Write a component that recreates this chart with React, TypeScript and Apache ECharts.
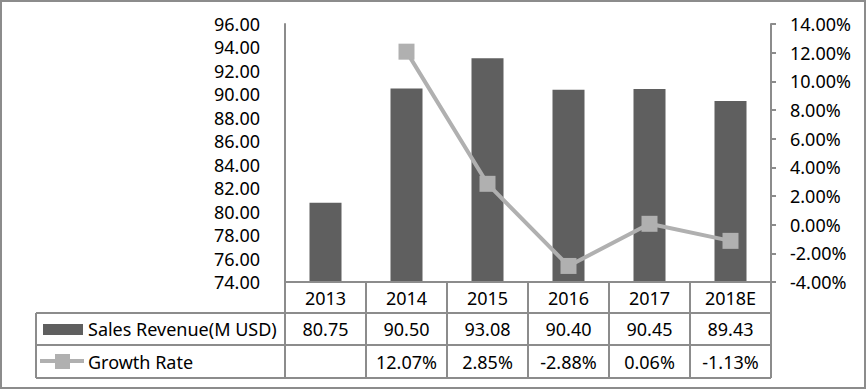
import React, { useEffect, useRef } from "react";
import * as echarts from "echarts";

const years = ["2013", "2014", "2015", "2016", "2017", "2018E"];
const revenue = [80.75, 90.5, 93.08, 90.4, 90.45, 89.43];
const growth: (number | null)[] = [null, 12.07, 2.85, -2.88, 0.06, -1.13];
const revenueName = "Sales Revenue(M USD)";
const growthName = "Growth Rate";

const FONT = "Noto Sans";
const FS = 18;
const GRID_L = 285;
const GRID_R = 771;
const GRID_T = 24;
const GRID_B = 282;
const ROW1 = 313;
const ROW2 = 345;
const ROW3 = 378;
const TABLE_L = 36;
const LINE_C = "#8c8c8c";
const BAR_C = "#5f5f5f";
const GROWTH_C = "#b0b0b0";

export default function App() {
  const ref = useRef<HTMLDivElement>(null);
  useEffect(() => {
    if (!ref.current) return;
    const chart = echarts.init(ref.current, null, { renderer: "svg" });
    const txt = { fontFamily: FONT, fontSize: FS, color: "#000" };
    const tableAxis = (data: string[], offset: number, len: number, idx: number) => ({
      type: "category",
      data,
      position: "bottom",
      offset,
      gridIndex: 0,
      boundaryGap: true,
      axisLine: { show: true, onZero: false, lineStyle: { color: LINE_C, width: 2 } },
      axisTick: { show: true, interval: 0, length: len, lineStyle: { color: LINE_C, width: 2 } },
      axisLabel: { show: true, interval: 0, margin: Math.round(len / 2), verticalAlign: "middle", ...txt },
      splitLine: { show: false },
      z: 5 + idx,
    });
    chart.setOption({
      animation: false,
      grid: { left: GRID_L, right: 867 - GRID_R, top: GRID_T, bottom: 390 - GRID_B },
      xAxis: [
        tableAxis(years, 0, ROW1 - GRID_B, 0),
        tableAxis(revenue.map((v) => v.toFixed(2)), ROW1 - GRID_B, ROW2 - ROW1, 1),
        tableAxis(growth.map((v) => (v == null ? "" : v.toFixed(2) + "%")), ROW2 - GRID_B, ROW3 - ROW2, 2),
      ],
      yAxis: [
        {
          type: "value",
          min: 74,
          max: 96,
          interval: 2,
          position: "left",
          axisLine: { show: true, onZero: false, lineStyle: { color: LINE_C, width: 2 } },
          axisTick: { show: false },
          splitLine: { show: false },
          axisLabel: { margin: 25, formatter: (v: number) => v.toFixed(2), ...txt },
        },
        {
          type: "value",
          min: -4,
          max: 14,
          interval: 2,
          position: "right",
          axisLine: { show: true, onZero: false, lineStyle: { color: LINE_C, width: 2 } },
          axisTick: { show: true, length: 5, lineStyle: { color: LINE_C, width: 2 } },
          splitLine: { show: false },
          axisLabel: { margin: 19, formatter: (v: number) => v.toFixed(2) + "%", ...txt },
        },
      ],
      series: [
        {
          name: revenueName,
          type: "bar",
          data: revenue,
          xAxisIndex: 0,
          yAxisIndex: 0,
          barWidth: 32,
          itemStyle: { color: BAR_C },
        },
        {
          name: growthName,
          type: "line",
          data: growth,
          xAxisIndex: 0,
          yAxisIndex: 1,
          symbol: "rect",
          symbolSize: 16,
          lineStyle: { color: GROWTH_C, width: 4 },
          itemStyle: { color: GROWTH_C },
          z: 10,
        },
      ],
      graphic: [
        { type: "rect", shape: { x: 1, y: 1, width: 864, height: 387 }, style: { fill: "none", stroke: LINE_C, lineWidth: 2 }, z: 0 },
        { type: "line", shape: { x1: TABLE_L, y1: ROW1, x2: GRID_L, y2: ROW1 }, style: { stroke: LINE_C, lineWidth: 2 } },
        { type: "line", shape: { x1: TABLE_L, y1: ROW2, x2: GRID_L, y2: ROW2 }, style: { stroke: LINE_C, lineWidth: 2 } },
        { type: "line", shape: { x1: TABLE_L, y1: ROW3, x2: GRID_R, y2: ROW3 }, style: { stroke: LINE_C, lineWidth: 2 } },
        { type: "line", shape: { x1: TABLE_L, y1: ROW1, x2: TABLE_L, y2: ROW3 }, style: { stroke: LINE_C, lineWidth: 2 } },
        { type: "rect", shape: { x: 43, y: 324, width: 40, height: 11 }, style: { fill: BAR_C } },
        { type: "line", shape: { x1: 40, y1: 361, x2: 84, y2: 361 }, style: { stroke: GROWTH_C, lineWidth: 4 } },
        { type: "rect", shape: { x: 55, y: 354, width: 15, height: 15 }, style: { fill: GROWTH_C } },
        { type: "text", x: 88, y: (ROW1 + ROW2) / 2, style: { text: revenueName, font: `${FS}px "${FONT}"`, fill: "#000", verticalAlign: "middle" } },
        { type: "text", x: 88, y: (ROW2 + ROW3) / 2, style: { text: growthName, font: `${FS}px "${FONT}"`, fill: "#000", verticalAlign: "middle" } },
      ],
    });
    return () => chart.dispose();
  }, []);
  return <div ref={ref} style={{ position: "fixed", left: 0, top: 0, width: 867, height: 390, background: "#fff" }} />;
}
